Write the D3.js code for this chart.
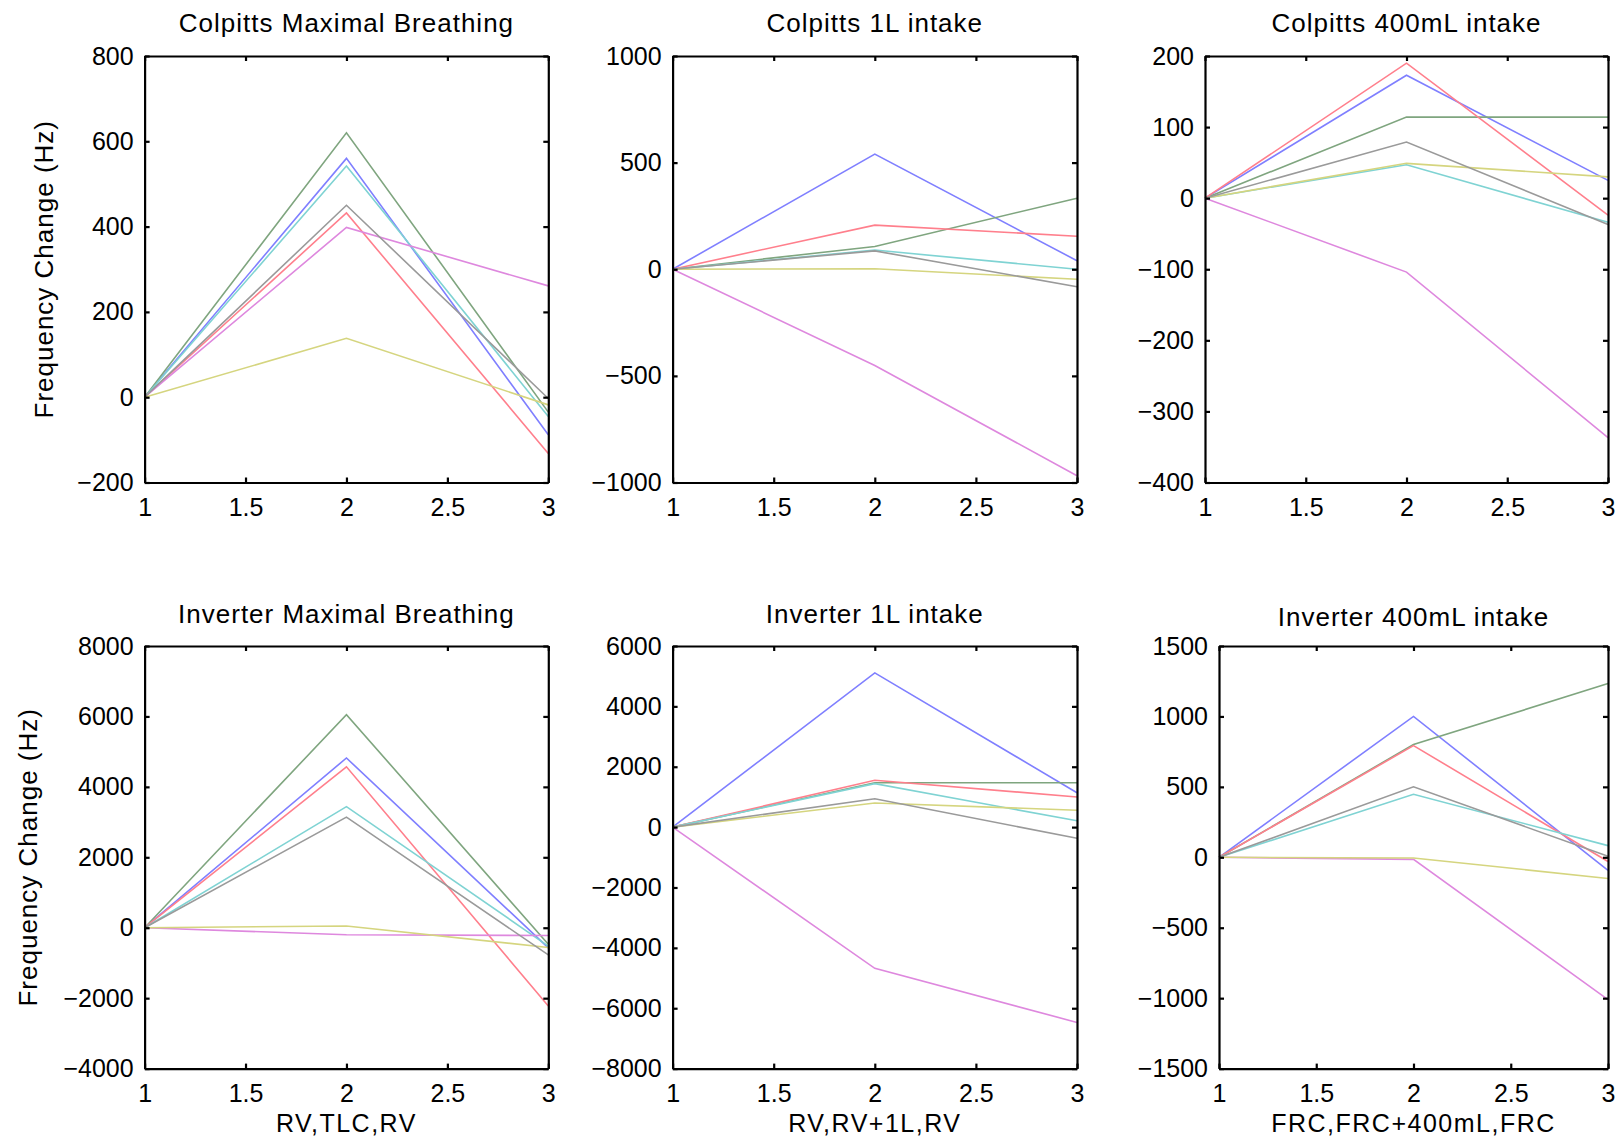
<html>
<head>
  <meta charset="utf-8">
  <script src="https://d3js.org/d3.v7.min.js"></script>
  <style>
  body { margin: 0; background: #fff; }
  text { font-family: "Liberation Sans", Arial, sans-serif; fill: #000; }
  .axis path, .axis line { stroke: #000; stroke-width: 2.2; }
  .axis text { font-size: 25px; }
  </style>
</head>
<body>
<div id="chart"></div>
<script>
// x positions of the three breathing states
var xValues = [1, 2, 3];
var xTicks = [1, 1.5, 2, 2.5, 3];

// series order: blue, green, red, cyan, magenta, yellow, grey
var seriesColors = ["#7f7fff", "#7fa57f", "#ff7f8c", "#7fd3d3", "#de88de", "#d5d57f", "#9a9a9a"];

var titles = ["Colpitts Maximal Breathing", "Colpitts 1L intake", "Colpitts 400mL intake",
              "Inverter Maximal Breathing", "Inverter 1L intake", "Inverter 400mL intake"];
var xLabels = ["", "", "", "RV,TLC,RV", "RV,RV+1L,RV", "FRC,FRC+400mL,FRC"];
var yLabel = "Frequency Change (Hz)";

var yTicksColpittsMax = [-200, 0, 200, 400, 600, 800];
var yTicksColpitts1L = [-1000, -500, 0, 500, 1000];
var yTicksColpitts400 = [-400, -300, -200, -100, 0, 100, 200];
var yTicksInverterMax = [-4000, -2000, 0, 2000, 4000, 6000, 8000];
var yTicksInverter1L = [-8000, -6000, -4000, -2000, 0, 2000, 4000, 6000];
var yTicksInverter400 = [-1500, -1000, -500, 0, 500, 1000, 1500];

var colpittsMax = [
  [0, 560, -88], [0, 620, -35], [0, 432, -132], [0, 542, -45],
  [0, 398, 261], [0, 138, -18], [0, 450, -3]
];
var colpitts1L = [
  [0, 540, 40], [0, 107, 333], [0, 207, 155], [0, 90, 0],
  [0, -451, -968], [0, 2, -47], [0, 86, -82]
];
var colpitts400 = [
  [0, 173, 25], [0, 114, 114], [0, 190, -24], [0, 47, -34],
  [0, -104, -337], [0, 49, 30], [0, 79, -37]
];
var inverterMax = [
  [0, 4820, -570], [0, 6050, -470], [0, 4570, -2220], [0, 3440, -520],
  [0, -200, -220], [0, 50, -560], [0, 3140, -770]
];
var inverter1L = [
  [0, 5110, 1140], [0, 1470, 1470], [0, 1550, 1000], [0, 1440, 210],
  [0, -4680, -6470], [0, 800, 560], [0, 940, -370]
];
var inverter400 = [
  [0, 1000, -93], [0, 800, 1233], [0, 793, -30], [0, 447, 83],
  [0, -15, -1010], [0, -5, -150], [0, 500, 8]
];

var panelData = [colpittsMax, colpitts1L, colpitts400, inverterMax, inverter1L, inverter400];
var panelTicks = [yTicksColpittsMax, yTicksColpitts1L, yTicksColpitts400,
                  yTicksInverterMax, yTicksInverter1L, yTicksInverter400];

var width = 1619, height = 1141;

var svg = d3.select("#chart").append("svg")
    .attr("width", width)
    .attr("height", height);

svg.append("rect").attr("width", width).attr("height", height).attr("fill", "#fff");

// axes boxes in pixels
var boxes = [
  {l: 144.6, r: 548.3, t: 56, b: 482.5, tb: 32, yl: 53},
  {l: 672.6, r: 1077, t: 56, b: 482.5, tb: 32},
  {l: 1205, r: 1608, t: 56, b: 482.5, tb: 32},
  {l: 144.6, r: 548.3, t: 646, b: 1068.6, tb: 623, yl: 37},
  {l: 672.6, r: 1077, t: 646, b: 1068.6, tb: 623},
  {l: 1219, r: 1608, t: 646, b: 1068.6, tb: 626}
];

var fmt = d3.format("");

boxes.forEach(function(box, i){
  var ticks = panelTicks[i];
  var x = d3.scaleLinear().domain([1, 3]).range([box.l, box.r]);
  var y = d3.scaleLinear().domain([ticks[0], ticks[ticks.length - 1]]).range([box.b, box.t]);

  var g = svg.append("g");

  var line = d3.line()
    .x(function(d, j){ return x(xValues[j]); })
    .y(function(d){ return y(d); });

  g.selectAll("path.series").data(panelData[i]).enter().append("path")
    .attr("class", "series")
    .attr("d", line)
    .attr("fill", "none")
    .attr("stroke", function(d, j){ return seriesColors[j]; })
    .attr("stroke-width", 1.6);

  g.append("g").attr("class", "axis")
    .attr("transform", "translate(0," + box.b + ")")
    .call(d3.axisBottom(x).tickValues(xTicks).tickSizeInner(-5).tickSizeOuter(0).tickPadding(16).tickFormat(fmt))
    .call(function(a){ a.selectAll("text").attr("fill", "#000"); });

  g.append("g").attr("class", "axis")
    .attr("transform", "translate(0," + box.t + ")")
    .call(d3.axisTop(x).tickValues(xTicks).tickSizeInner(-5).tickSizeOuter(0).tickFormat(""));

  g.append("g").attr("class", "axis")
    .attr("transform", "translate(" + box.l + ",0)")
    .call(d3.axisLeft(y).tickValues(ticks).tickSizeInner(-5).tickSizeOuter(0).tickPadding(11).tickFormat(fmt))
    .call(function(a){ a.selectAll("text").attr("fill", "#000"); });

  g.append("g").attr("class", "axis")
    .attr("transform", "translate(" + box.r + ",0)")
    .call(d3.axisRight(y).tickValues(ticks).tickSizeInner(-5).tickSizeOuter(0).tickFormat(""));

  svg.selectAll(".axis").attr("font-family", null).attr("font-size", null);

  g.append("text")
    .attr("x", (box.l + box.r) / 2)
    .attr("y", box.tb)
    .attr("text-anchor", "middle")
    .style("font-size", "26px")
    .style("letter-spacing", "1px")
    .text(titles[i]);

  if (xLabels[i]) {
    g.append("text")
      .attr("x", (box.l + box.r) / 2)
      .attr("y", 1132)
      .attr("text-anchor", "middle")
      .style("font-size", "25px")
      .style("letter-spacing", "1.5px")
      .text(xLabels[i]);
  }

  if (box.yl) {
    g.append("text")
      .attr("transform", "translate(" + box.yl + "," + (box.t + box.b) / 2 + ") rotate(-90)")
      .attr("text-anchor", "middle")
      .style("font-size", "26px")
      .style("letter-spacing", "1px")
      .text(yLabel);
  }
});
</script>
</body>
</html>
